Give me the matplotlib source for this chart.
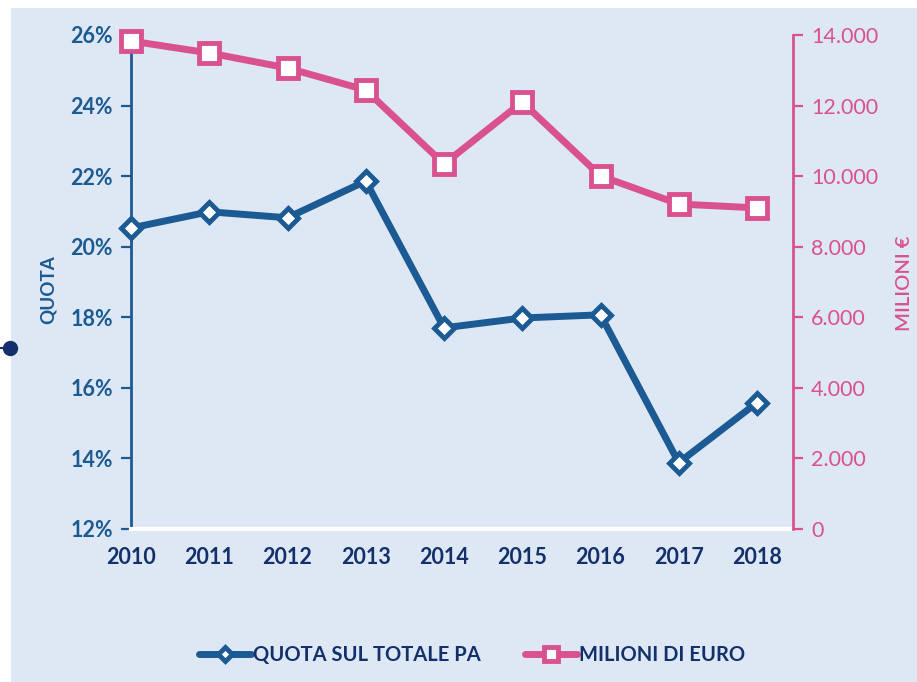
import matplotlib.pyplot as plt
from matplotlib.patches import Rectangle
from matplotlib.lines import Line2D

years = ["2010", "2011", "2012", "2013", "2014", "2015", "2016", "2017", "2018"]
quota = [20.53, 20.99, 20.82, 21.86, 17.70, 17.98, 18.07, 13.88, 15.58]
milioni = [13830, 13490, 13065, 12440, 10345, 12100, 10005, 9210, 9100]

quota_ticks = [12, 14, 16, 18, 20, 22, 24, 26]
milioni_ticks = [0, 2000, 4000, 6000, 8000, 10000, 12000, 14000]

BG = "#dde8f4"
BLUE = "#1b5a92"
PINK = "#d9528f"
NAVY = "#13306b"

plt.rcParams["font.family"] = ["Lato", "DejaVu Sans"]

fig = plt.figure(figsize=(9.17, 6.82), dpi=100)
fig.patch.set_facecolor("white")
fig.patches.append(Rectangle((11 / 917, 0), 1, 1 - 8 / 682, transform=fig.transFigure,
                             facecolor=BG, edgecolor="none", zorder=-10))
# small connector dot on the left edge
fig.add_artist(Line2D([0, 10 / 917], [1 - 348 / 682] * 2, color=NAVY, lw=1.5,
                      transform=fig.transFigure))
fig.add_artist(Line2D([10 / 917], [1 - 348 / 682], marker="o", markersize=10, color=NAVY,
                      transform=fig.transFigure))

ax = fig.add_axes([131 / 917, 1 - 529 / 682, (793 - 131) / 917, (529 - 35) / 682])
ax.set_facecolor("none")
x = list(range(len(years)))

l1, = ax.plot(x, quota, color=BLUE, lw=5, marker="D", markersize=10,
              markerfacecolor="white", markeredgecolor=BLUE, markeredgewidth=3.5,
              label="QUOTA SUL TOTALE PA", solid_capstyle="round", zorder=5,
              clip_on=False)
ax.set_ylim(12, 26)
ax.set_xlim(0, 8.46)
ax.set_yticks(quota_ticks)
ax.set_yticklabels([f"{v}%" for v in quota_ticks])
ax.set_xticks(x)
ax.set_xticklabels(years)

ax2 = ax.twinx()
l2, = ax2.plot(x, milioni, color=PINK, lw=5, marker="s", markersize=14,
               markerfacecolor="white", markeredgecolor=PINK, markeredgewidth=3.5,
               label="MILIONI DI EURO", solid_capstyle="round", zorder=5,
               clip_on=False)
ax2.set_ylim(0, 14000)
ax2.set_yticks(milioni_ticks)
ax2.set_yticklabels([f"{v:,}".replace(",", ".") for v in milioni_ticks])

for s in ["top", "right"]:
    ax.spines[s].set_visible(False)
for s in ["top", "left"]:
    ax2.spines[s].set_visible(False)
ax.spines["left"].set_color(BLUE)
ax.spines["left"].set_linewidth(2)
ax.spines["bottom"].set_color("white")
ax.spines["bottom"].set_linewidth(3)
ax2.spines["bottom"].set_visible(False)
ax2.spines["right"].set_color(PINK)
ax2.spines["right"].set_linewidth(2)

ax.tick_params(axis="y", colors=BLUE, labelsize=15.5, length=7, width=1.6, pad=6)
for t in ax.get_yticklabels():
    t.set_fontweight("bold")
ax.tick_params(axis="x", length=0, pad=13, labelsize=15.5, labelcolor=NAVY)
for t in ax.get_xticklabels():
    t.set_fontweight("bold")
ax2.tick_params(axis="y", colors=PINK, labelsize=15.5, length=7, width=1.6, pad=6)

fig.text(48 / 917, 1 - 290 / 682, "QUOTA", rotation=90, color=BLUE, fontsize=13.5,
         fontweight="bold", ha="center", va="center")
fig.text(905 / 917, 1 - 283 / 682, "MILIONI €", rotation=90, color=PINK, fontsize=14.5,
         fontweight="semibold", ha="center", va="center")

leg = fig.legend(handles=[l1, l2], loc="center", bbox_to_anchor=(472 / 917, 1 - 655 / 682),
                 ncol=2, frameon=False, fontsize=14.5, handlelength=2.6, handletextpad=0.1,
                 columnspacing=2.2, markerscale=0.75)
for t in leg.get_texts():
    t.set_color(NAVY)
    t.set_fontweight("bold")

fig.savefig("out.png", dpi=100)
